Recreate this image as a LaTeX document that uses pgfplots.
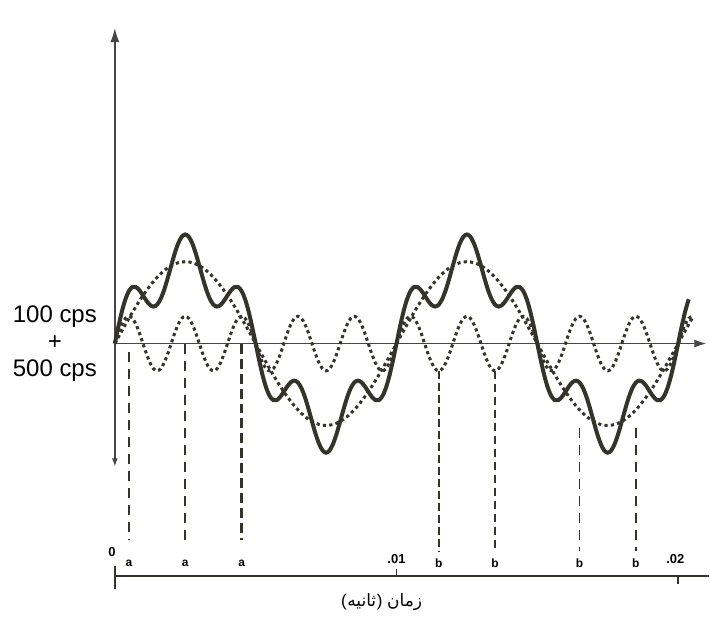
\documentclass[border=0pt]{standalone}
\usepackage{pgfplots}
\pgfplotsset{compat=1.18}
\usepackage{pgfplotstable}
\usepackage{fontspec}
\setmainfont{Liberation Sans}
\newfontfamily\arabicfont[Script=Arabic]{DejaVu Sans}
\TeXXeTstate=1
\usetikzlibrary{arrows.meta}
\definecolor{ink}{RGB}{52,52,42}
\definecolor{axisc}{RGB}{70,70,70}

% t in ms, s1 = 100 cps, s5 = 500 cps, sum = s1 + s5
\pgfplotstableread{
t s1 s5 sum
0.000 0 0 0
0.125 0.235 0.383 0.618
0.250 0.469 0.707 1.176
0.375 0.700 0.924 1.624
0.500 0.927 1.000 1.927
0.625 1.148 0.924 2.072
0.750 1.362 0.707 2.069
0.875 1.568 0.383 1.951
1.000 1.763 0 1.763
1.125 1.948 -0.383 1.565
1.250 2.121 -0.707 1.414
1.375 2.281 -0.924 1.357
1.500 2.427 -1.000 1.427
1.625 2.558 -0.924 1.634
1.750 2.673 -0.707 1.966
1.875 2.772 -0.383 2.389
2.000 2.853 0 2.853
2.125 2.917 0.383 3.300
2.250 2.963 0.707 3.670
2.375 2.991 0.924 3.915
2.500 3.000 1.000 4.000
2.625 2.991 0.924 3.915
2.750 2.963 0.707 3.670
2.875 2.917 0.383 3.300
3.000 2.853 0 2.853
3.125 2.772 -0.383 2.389
3.250 2.673 -0.707 1.966
3.375 2.558 -0.924 1.634
3.500 2.427 -1.000 1.427
3.625 2.281 -0.924 1.357
3.750 2.121 -0.707 1.414
3.875 1.948 -0.383 1.565
4.000 1.763 0 1.763
4.125 1.568 0.383 1.951
4.250 1.362 0.707 2.069
4.375 1.148 0.924 2.072
4.500 0.927 1.000 1.927
4.625 0.700 0.924 1.624
4.750 0.469 0.707 1.176
4.875 0.235 0.383 0.618
5.000 0 0 0
5.125 -0.235 -0.383 -0.618
5.250 -0.469 -0.707 -1.176
5.375 -0.700 -0.924 -1.624
5.500 -0.927 -1.000 -1.927
5.625 -1.148 -0.924 -2.072
5.750 -1.362 -0.707 -2.069
5.875 -1.568 -0.383 -1.951
6.000 -1.763 0 -1.763
6.125 -1.948 0.383 -1.565
6.250 -2.121 0.707 -1.414
6.375 -2.281 0.924 -1.357
6.500 -2.427 1.000 -1.427
6.625 -2.558 0.924 -1.634
6.750 -2.673 0.707 -1.966
6.875 -2.772 0.383 -2.389
7.000 -2.853 0 -2.853
7.125 -2.917 -0.383 -3.300
7.250 -2.963 -0.707 -3.670
7.375 -2.991 -0.924 -3.915
7.500 -3.000 -1.000 -4.000
7.625 -2.991 -0.924 -3.915
7.750 -2.963 -0.707 -3.670
7.875 -2.917 -0.383 -3.300
8.000 -2.853 0 -2.853
8.125 -2.772 0.383 -2.389
8.250 -2.673 0.707 -1.966
8.375 -2.558 0.924 -1.634
8.500 -2.427 1.000 -1.427
8.625 -2.281 0.924 -1.357
8.750 -2.121 0.707 -1.414
8.875 -1.948 0.383 -1.565
9.000 -1.763 0 -1.763
9.125 -1.568 -0.383 -1.951
9.250 -1.362 -0.707 -2.069
9.375 -1.148 -0.924 -2.072
9.500 -0.927 -1.000 -1.927
9.625 -0.700 -0.924 -1.624
9.750 -0.469 -0.707 -1.176
9.875 -0.235 -0.383 -0.618
10.000 0 0 0
10.125 0.235 0.383 0.618
10.250 0.469 0.707 1.176
10.375 0.700 0.924 1.624
10.500 0.927 1.000 1.927
10.625 1.148 0.924 2.072
10.750 1.362 0.707 2.069
10.875 1.568 0.383 1.951
11.000 1.763 0 1.763
11.125 1.948 -0.383 1.565
11.250 2.121 -0.707 1.414
11.375 2.281 -0.924 1.357
11.500 2.427 -1.000 1.427
11.625 2.558 -0.924 1.634
11.750 2.673 -0.707 1.966
11.875 2.772 -0.383 2.389
12.000 2.853 0 2.853
12.125 2.917 0.383 3.300
12.250 2.963 0.707 3.670
12.375 2.991 0.924 3.915
12.500 3.000 1.000 4.000
12.625 2.991 0.924 3.915
12.750 2.963 0.707 3.670
12.875 2.917 0.383 3.300
13.000 2.853 0 2.853
13.125 2.772 -0.383 2.389
13.250 2.673 -0.707 1.966
13.375 2.558 -0.924 1.634
13.500 2.427 -1.000 1.427
13.625 2.281 -0.924 1.357
13.750 2.121 -0.707 1.414
13.875 1.948 -0.383 1.565
14.000 1.763 0 1.763
14.125 1.568 0.383 1.951
14.250 1.362 0.707 2.069
14.375 1.148 0.924 2.072
14.500 0.927 1.000 1.927
14.625 0.700 0.924 1.624
14.750 0.469 0.707 1.176
14.875 0.235 0.383 0.618
15.000 0 0 0
15.125 -0.235 -0.383 -0.618
15.250 -0.469 -0.707 -1.176
15.375 -0.700 -0.924 -1.624
15.500 -0.927 -1.000 -1.927
15.625 -1.148 -0.924 -2.072
15.750 -1.362 -0.707 -2.069
15.875 -1.568 -0.383 -1.951
16.000 -1.763 0 -1.763
16.125 -1.948 0.383 -1.565
16.250 -2.121 0.707 -1.414
16.375 -2.281 0.924 -1.357
16.500 -2.427 1.000 -1.427
16.625 -2.558 0.924 -1.634
16.750 -2.673 0.707 -1.966
16.875 -2.772 0.383 -2.389
17.000 -2.853 0 -2.853
17.125 -2.917 -0.383 -3.300
17.250 -2.963 -0.707 -3.670
17.375 -2.991 -0.924 -3.915
17.500 -3.000 -1.000 -4.000
17.625 -2.991 -0.924 -3.915
17.750 -2.963 -0.707 -3.670
17.875 -2.917 -0.383 -3.300
18.000 -2.853 0 -2.853
18.125 -2.772 0.383 -2.389
18.250 -2.673 0.707 -1.966
18.375 -2.558 0.924 -1.634
18.500 -2.427 1.000 -1.427
18.625 -2.281 0.924 -1.357
18.750 -2.121 0.707 -1.414
18.875 -1.948 0.383 -1.565
19.000 -1.763 0 -1.763
19.125 -1.568 -0.383 -1.951
19.250 -1.362 -0.707 -2.069
19.375 -1.148 -0.924 -2.072
19.500 -0.927 -1.000 -1.927
19.625 -0.700 -0.924 -1.624
19.750 -0.469 -0.707 -1.176
19.875 -0.235 -0.383 -0.618
20.000 0 0 0
20.125 0.235 0.383 0.618
20.250 0.469 0.707 1.176
20.375 0.700 0.924 1.624
20.500 0.927 1.000 1.927
}\wave

\begin{document}
\begin{tikzpicture}
\begin{axis}[
  scale only axis, width=355pt, height=310pt,
  xmin=-4.078, xmax=21.10, ymin=-10.10, ymax=12.59,
  hide axis, clip=false,
]
% vertical axis with arrows
\addplot[axisc, line width=0.7pt, {Latex[length=7pt,width=4.5pt]}-{Latex[length=4pt,width=3pt]}]
  coordinates {(0,11.56) (0,-4.5)};
% zero line with arrow
\addplot[axisc, line width=0.6pt, -{Latex[length=6pt,width=4pt]}]
  coordinates {(0,0) (21.0,0)};
% bottom time axis
\addplot[ink, line width=0.9pt] coordinates {(0,-8.53) (21.1,-8.53)};
\addplot[ink, line width=0.8pt] coordinates {(0,-8.16) (0,-9.0)};
\addplot[ink, line width=0.8pt] coordinates {(10,-8.27) (10,-8.53)};
\addplot[ink, line width=0.8pt] coordinates {(20.0,-8.53) (20.0,-8.82)};

% dashed guide lines
\addplot[ink, line width=0.7pt, dash pattern=on 5pt off 3.5pt] coordinates {(0.5,-0.3) (0.5,-7.2)};
\addplot[ink, line width=1.1pt, dash pattern=on 5pt off 3.5pt] coordinates {(2.5,0) (2.5,-7.2)};
\addplot[ink, line width=1.6pt, dash pattern=on 5pt off 2.5pt] coordinates {(4.5,0) (4.5,-7.2)};
\addplot[ink, line width=0.9pt, dash pattern=on 4pt off 2pt] coordinates {(11.5,-1.0) (11.5,-7.6)};
\addplot[ink, line width=1.2pt, dash pattern=on 4pt off 2.5pt] coordinates {(13.5,-1.0) (13.5,-7.6)};
\addplot[ink, line width=0.7pt, dash pattern=on 5pt off 3.5pt] coordinates {(16.5,-3.1) (16.5,-7.6)};
\addplot[ink, line width=0.7pt, dash pattern=on 5pt off 3.5pt] coordinates {(18.5,-3.1) (18.5,-7.6)};

% waves
\addplot[ink, line width=1.5pt, dash pattern=on 1.6pt off 1.6pt, smooth] table[x=t,y=s1]{\wave};
\addplot[ink, line width=1.5pt, dash pattern=on 1.6pt off 1.6pt, smooth] table[x=t,y=s5]{\wave};
\addplot[ink, line width=2.0pt, smooth, restrict x to domain=0:20.4] table[x=t,y=sum]{\wave};

% labels
\node[font=\fontsize{12}{13.5}\selectfont, align=center] at (axis cs:-2.13,0) {100 cps\\+\\500 cps};
\node[font=\fontsize{6.5}{7}\selectfont\bfseries] at (axis cs:-0.1,-7.65) {0};
\node[font=\fontsize{6.5}{7}\selectfont\bfseries] at (axis cs:10,-7.9) {.01};
\node[font=\fontsize{6.5}{7}\selectfont\bfseries] at (axis cs:19.9,-7.9) {.02};
\node[font=\fontsize{6}{7}\selectfont\bfseries] at (axis cs:0.5,-8.05) {a};
\node[font=\fontsize{6}{7}\selectfont\bfseries] at (axis cs:2.5,-8.05) {a};
\node[font=\fontsize{6}{7}\selectfont\bfseries] at (axis cs:4.5,-8.05) {a};
\node[font=\fontsize{6}{7}\selectfont\bfseries] at (axis cs:11.5,-8.05) {b};
\node[font=\fontsize{6}{7}\selectfont\bfseries] at (axis cs:13.5,-8.05) {b};
\node[font=\fontsize{6}{7}\selectfont\bfseries] at (axis cs:16.5,-8.05) {b};
\node[font=\fontsize{6}{7}\selectfont\bfseries] at (axis cs:18.5,-8.05) {b};
\node[font=\fontsize{8.5}{9}\selectfont, inner sep=0pt] at (axis cs:9.47,-9.48)
  {\hbox{(\kern0.3pt{\arabicfont\beginR ثانیه\endR}\kern0.3pt)\ {\arabicfont\beginR زمان\endR}}};
\end{axis}
\path (current axis.south west) rectangle (current axis.north east);
\end{tikzpicture}
\end{document}
